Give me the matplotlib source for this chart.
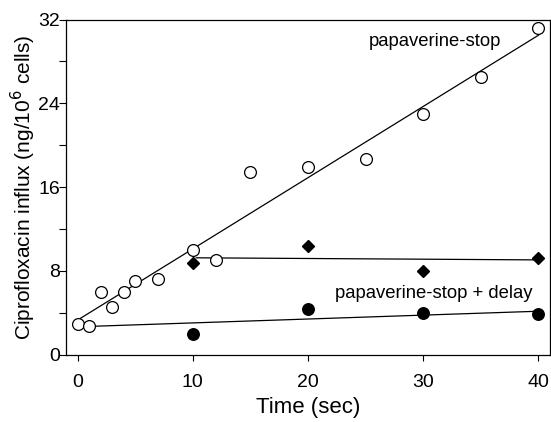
import matplotlib
matplotlib.use("Agg")
import matplotlib.pyplot as plt
from matplotlib.ticker import MultipleLocator

plt.rcParams['font.family'] = ['Liberation Sans', 'DejaVu Sans']

# papaverine-stop (open circles)
stop_t = [0, 1, 2, 3, 4, 5, 7, 10, 12, 15, 20, 25, 30, 35, 40]
stop_v = [2.95, 2.7, 6.0, 4.6, 6.0, 7.0, 7.2, 10.0, 9.0, 17.4, 17.9, 18.7, 23.0, 26.5, 31.2]
stop_fit_t = [0, 40]
stop_fit_v = [3.3, 30.5]

# diamonds
dia_t = [10, 20, 30, 40]
dia_v = [8.8, 10.4, 8.0, 9.25]
dia_fit_t = [10.3, 40]
dia_fit_v = [9.25, 9.05]

# papaverine-stop + delay (filled circles)
delay_t = [10, 20, 30, 40]
delay_v = [2.0, 4.4, 3.95, 3.85]
delay_fit_t = [1, 40]
delay_fit_v = [2.7, 4.15]

x_ticks = [0, 10, 20, 30, 40]
y_ticks = [0, 8, 16, 24, 32]

fig = plt.figure(figsize=(5.51, 4.22), dpi=100)
ax = fig.add_axes([66/551, 1-354.7/422, (550-66)/551, (354.7-19.5)/422])

ax.plot(stop_fit_t, stop_fit_v, color='black', lw=0.9, zorder=2)
ax.plot(dia_fit_t, dia_fit_v, color='black', lw=0.9, zorder=2)
ax.plot(delay_fit_t, delay_fit_v, color='black', lw=0.9, zorder=2)

ax.plot(stop_t, stop_v, 'o', ms=8.5, mfc='white', mec='black', mew=0.9, ls='none', zorder=3)
ax.plot(dia_t, dia_v, 'D', ms=6.3, mfc='black', mec='black', ls='none', zorder=3)
ax.plot(delay_t, delay_v, 'o', ms=8.3, mfc='black', mec='black', ls='none', zorder=3)

ax.set_xlim(-1, 41)
ax.set_ylim(0, 32)
ax.set_xticks(x_ticks)
ax.set_yticks(y_ticks)
ax.yaxis.set_minor_locator(MultipleLocator(4))
ax.tick_params(axis='y', which='both', direction='out', length=5, width=0.8,
               labelsize=14, pad=-0.5)
ax.tick_params(axis='x', which='both', direction='out', length=4, width=0.8,
               labelsize=14, pad=10)

for s in ax.spines.values():
    s.set_linewidth(0.9)

ax.set_xlabel('Time (sec)', fontsize=16, labelpad=4)
ax.set_ylabel('Ciprofloxacin influx (ng/10$^{6}$ cells)', fontsize=15, labelpad=0)

ax.text(25.3, 29.5, 'papaverine-stop', fontsize=13.3)
ax.text(22.3, 5.4, 'papaverine-stop + delay', fontsize=13.3)

fig.savefig('out.png', dpi=100)
